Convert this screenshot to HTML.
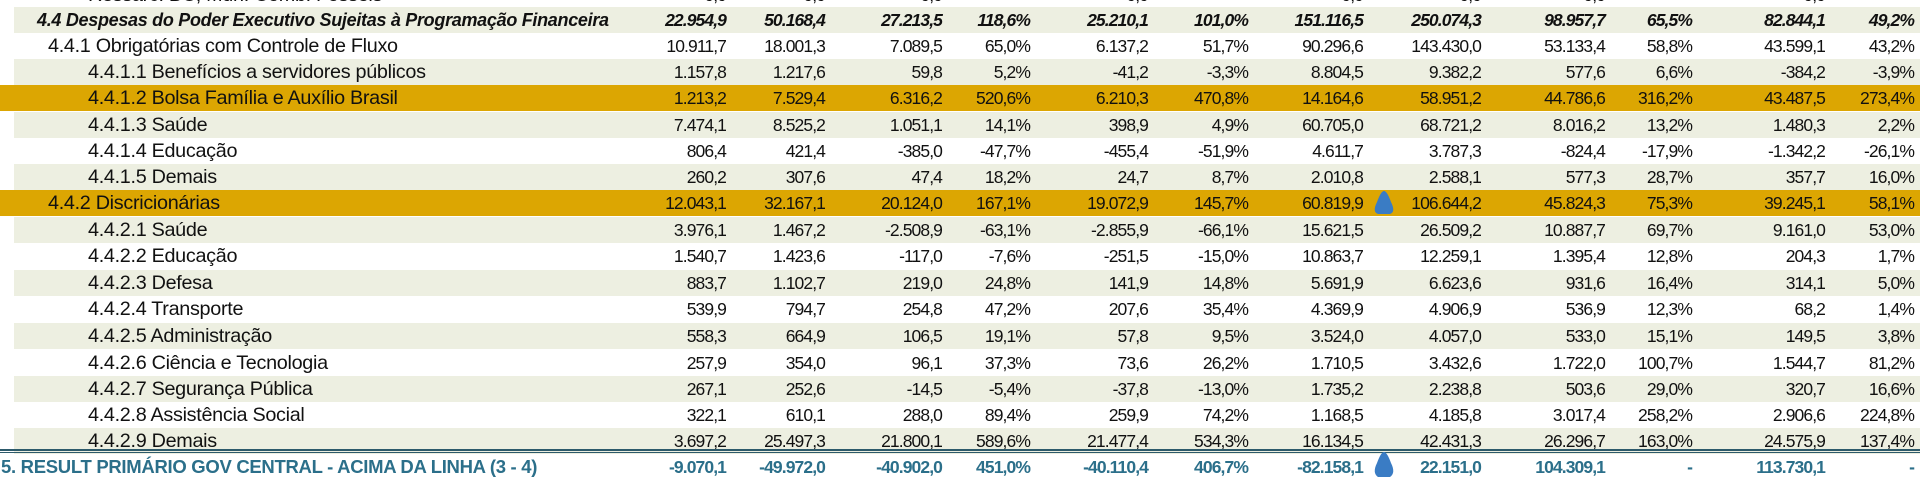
<!DOCTYPE html>
<html><head><meta charset="utf-8">
<style>
html,body{margin:0;padding:0;width:1920px;height:477px;overflow:hidden;background:#fff;}
#t{position:relative;width:1920px;height:477px;font-family:"Liberation Sans",sans-serif;color:#111;}
.row{position:absolute;left:0;width:1920px;height:26px;}
.c{position:absolute;top:0;line-height:26px;white-space:nowrap;text-align:right;font-size:17.5px;letter-spacing:-0.9px;}
.lbl{position:absolute;top:0;line-height:26px;white-space:nowrap;font-size:19.8px;letter-spacing:-0.3px;}
</style></head><body>
<div id="t"></div>
<script>
const labels=["Ressarc. BC, Mun. Comb. Fósseis","4.4  Despesas do Poder Executivo Sujeitas à Programação Financeira","4.4.1 Obrigatórias com Controle de Fluxo","4.4.1.1 Benefícios a servidores públicos","4.4.1.2 Bolsa Família e Auxílio Brasil","4.4.1.3 Saúde","4.4.1.4 Educação","4.4.1.5 Demais","4.4.2 Discricionárias","4.4.2.1 Saúde","4.4.2.2 Educação","4.4.2.3 Defesa","4.4.2.4 Transporte","4.4.2.5 Administração","4.4.2.6 Ciência e Tecnologia","4.4.2.7 Segurança Pública","4.4.2.8 Assistência Social","4.4.2.9 Demais","5. RESULT PRIMÁRIO GOV CENTRAL - ACIMA DA LINHA (3 - 4)"];
const values=[
["0,0","0,0","0,0","-","0,0","-","0,0","0,0","0,0","-","0,0","-"],
["22.954,9","50.168,4","27.213,5","118,6%","25.210,1","101,0%","151.116,5","250.074,3","98.957,7","65,5%","82.844,1","49,2%"],
["10.911,7","18.001,3","7.089,5","65,0%","6.137,2","51,7%","90.296,6","143.430,0","53.133,4","58,8%","43.599,1","43,2%"],
["1.157,8","1.217,6","59,8","5,2%","-41,2","-3,3%","8.804,5","9.382,2","577,6","6,6%","-384,2","-3,9%"],
["1.213,2","7.529,4","6.316,2","520,6%","6.210,3","470,8%","14.164,6","58.951,2","44.786,6","316,2%","43.487,5","273,4%"],
["7.474,1","8.525,2","1.051,1","14,1%","398,9","4,9%","60.705,0","68.721,2","8.016,2","13,2%","1.480,3","2,2%"],
["806,4","421,4","-385,0","-47,7%","-455,4","-51,9%","4.611,7","3.787,3","-824,4","-17,9%","-1.342,2","-26,1%"],
["260,2","307,6","47,4","18,2%","24,7","8,7%","2.010,8","2.588,1","577,3","28,7%","357,7","16,0%"],
["12.043,1","32.167,1","20.124,0","167,1%","19.072,9","145,7%","60.819,9","106.644,2","45.824,3","75,3%","39.245,1","58,1%"],
["3.976,1","1.467,2","-2.508,9","-63,1%","-2.855,9","-66,1%","15.621,5","26.509,2","10.887,7","69,7%","9.161,0","53,0%"],
["1.540,7","1.423,6","-117,0","-7,6%","-251,5","-15,0%","10.863,7","12.259,1","1.395,4","12,8%","204,3","1,7%"],
["883,7","1.102,7","219,0","24,8%","141,9","14,8%","5.691,9","6.623,6","931,6","16,4%","314,1","5,0%"],
["539,9","794,7","254,8","47,2%","207,6","35,4%","4.369,9","4.906,9","536,9","12,3%","68,2","1,4%"],
["558,3","664,9","106,5","19,1%","57,8","9,5%","3.524,0","4.057,0","533,0","15,1%","149,5","3,8%"],
["257,9","354,0","96,1","37,3%","73,6","26,2%","1.710,5","3.432,6","1.722,0","100,7%","1.544,7","81,2%"],
["267,1","252,6","-14,5","-5,4%","-37,8","-13,0%","1.735,2","2.238,8","503,6","29,0%","320,7","16,6%"],
["322,1","610,1","288,0","89,4%","259,9","74,2%","1.168,5","4.185,8","3.017,4","258,2%","2.906,6","224,8%"],
["3.697,2","25.497,3","21.800,1","589,6%","21.477,4","534,3%","16.134,5","42.431,3","26.296,7","163,0%","24.575,9","137,4%"],
["-9.070,1","-49.972,0","-40.902,0","451,0%","-40.110,4","406,7%","-82.158,1","22.151,0","104.309,1","-","113.730,1","-"]];
const indents=[88,37,48,88,88,88,88,88,48,88,88,88,88,88,88,88,88,88,1];
const colRight=[726,825,942,1030,1148,1248,1363,1481,1605,1692,1825,1914];
const tops=[-18,7,33,59,85,112,138,164,190,217,243,270,296,323,350,376,402,428,454];
const t=document.getElementById('t');
labels.forEach((lab,i)=>{
  const r=document.createElement('div');
  r.className='row';
  
  
  r.style.top=tops[i]+'px';
  let bg='#fff';
  if(i===4||i===8) bg='#dca602';
  else if(i>0 && i<18 && i%2===1){bg='#edefe1';r.style.left='14px';r.style.width='1906px';r.style.marginLeft='0';}
  r.style.background=bg;
  const off=(i>0&&i<18&&i%2===1&&i!==4&&i!==8)?14:0;
  if(i===18){r.style.color='#2b6f8a';r.style.fontWeight='bold';r.style.height='23px';}
  if(i===1){r.style.fontWeight='bold';r.style.fontStyle='italic';}
  const l=document.createElement('div');
  l.className='lbl';
  
  
  l.style.left=(indents[i]-off)+'px';
  if(i===1){l.style.fontSize='18px';l.style.letterSpacing='-0.3px';}
  if(i===18){l.style.fontSize='18.5px';l.style.letterSpacing='-0.3px';}
  l.textContent=lab;
  r.appendChild(l);
  values[i].forEach((v,j)=>{
    const c=document.createElement('div');
    c.className='c';
    
    
    c.style.right=(1920-off-colRight[j]-(off?0:0))+'px';
    if(off) c.style.right=(1906-(colRight[j]-14))+'px';
    c.textContent=v;
    r.appendChild(c);
  });
  t.appendChild(r);
});
</script>
<div style="position:absolute;left:0;top:449px;width:1920px;height:2px;background:#2d5a6b"></div>
<div style="position:absolute;left:0;top:452px;width:1920px;height:1px;background:#2d5a6b"></div>
<svg style="position:absolute;left:1372px;top:190px" width="24" height="26"><path d="M12 1 Q15 1 19 12 Q24 22 18 24 L6 24 Q0 22 5 12 Q9 1 12 1Z" fill="#3a7cc4"/></svg>
<svg style="position:absolute;left:1372px;top:451px" width="24" height="26"><path d="M12 1 Q15 1 19 12 Q24 22 18 26 L6 26 Q0 22 5 12 Q9 1 12 1Z" fill="#3a7cc4"/></svg>
</body></html>
